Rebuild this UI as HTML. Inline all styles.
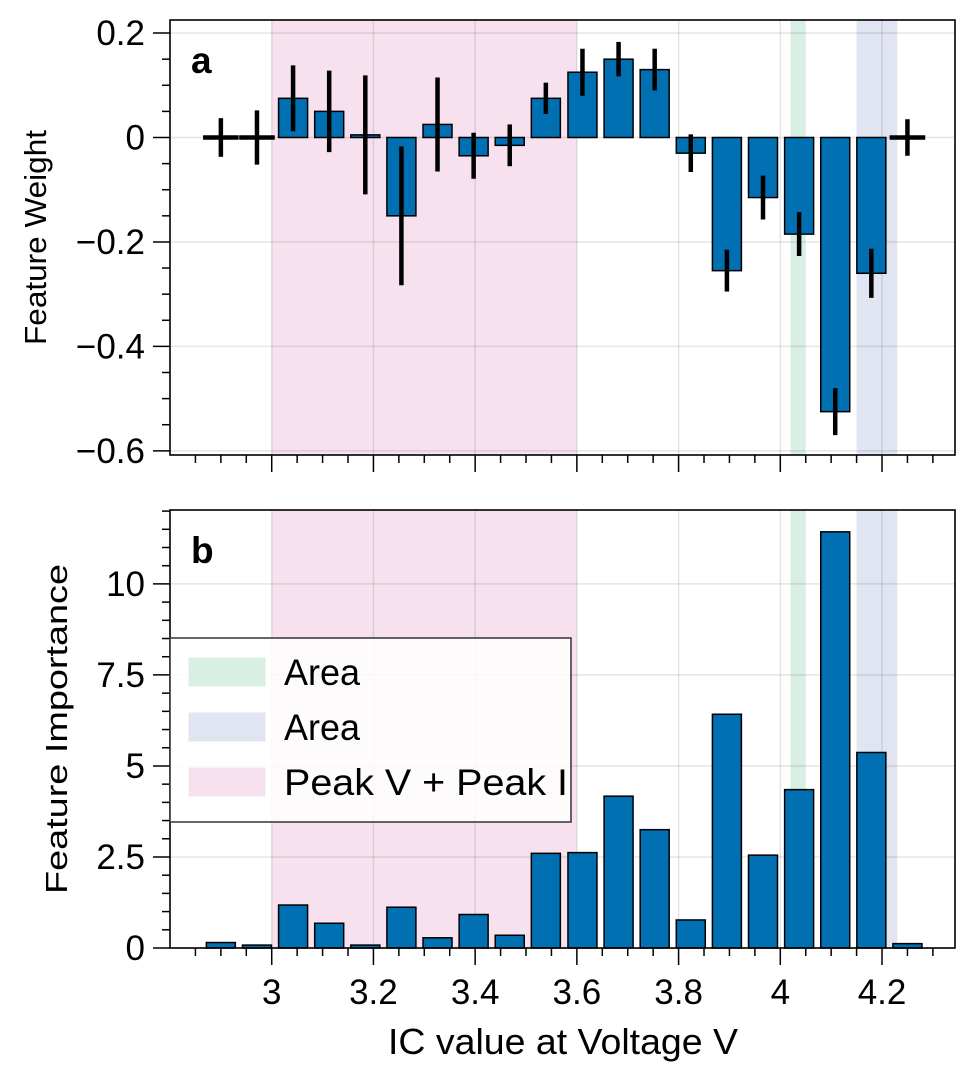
<!DOCTYPE html>
<html><head><meta charset="utf-8"><style>
body{margin:0;background:#fff;}
svg{display:block;font-family:"Liberation Sans",sans-serif;}
</style></head><body>
<svg id="c" width="975" height="1080" viewBox="0 0 975 1080"></svg>
<script>
const centers=[2.90,2.971,3.042,3.113,3.184,3.255,3.326,3.397,3.468,3.539,3.611,3.682,3.753,3.824,3.895,3.966,4.037,4.108,4.179,4.25];
const weights=[0,0,0.075,0.05,0.005,-0.15,0.025,-0.035,-0.015,0.075,0.125,0.15,0.13,-0.03,-0.255,-0.115,-0.185,-0.525,-0.26,0];
const weightErr=[0.037,0.052,0.063,0.078,0.114,0.133,0.09,0.044,0.04,0.03,0.045,0.033,0.04,0.036,0.04,0.042,0.042,0.045,0.047,0.035];
const importance=[0.15,0.08,1.18,0.68,0.08,1.12,0.28,0.92,0.35,2.6,2.62,4.17,3.25,0.77,6.42,2.55,4.35,11.43,5.37,0.12];
const xTicks=[3,3.2,3.4,3.6,3.8,4,4.2];
const xTickLabels=["3","3.2","3.4","3.6","3.8","4","4.2"];
const yTopTicks=[0.2,0,-0.2,-0.4,-0.6];
const yTopLabels=["0.2","0","\u22120.2","\u22120.4","\u22120.6"];
const yBotTicks=[0,2.5,5,7.5,10];
const yBotLabels=["0","2.5","5","7.5","10"];
const regions=[[3.0,3.6,"#f7e1ee"],[4.02,4.05,"#d8efe4"],[4.15,4.23,"#e1e5f1"]];

const NS="http://www.w3.org/2000/svg",svg=document.getElementById('c');
function el(t,a,p){const e=document.createElementNS(NS,t);for(const k in a)e.setAttribute(k,a[k]);(p||svg).appendChild(e);return e;}
const L=170,R=955,XMIN=2.8,XMAX=4.3435;
const X=v=>L+(v-XMIN)/(XMAX-XMIN)*(R-L);
const T={top:20,bot:455,min:-0.608,max:0.225},B={top:510,bot:948,min:0,max:12.03};
const Y=(p,v)=>p.bot-(v-p.min)/(p.max-p.min)*(p.bot-p.top);
const bw=X(2.857)-X(2.8);

function panel(p,yt,yl,minorStep,name,letter,ylabel,showX,titleX,titleLen){
  const g=el('g',{});
  
  
  regions.forEach(r=>{const e=el('rect',{x:X(r[0]),y:p.top,width:X(r[1])-X(r[0]),height:p.bot-p.top,fill:r[2]},g);
    });
  xTicks.forEach(t=>el('line',{x1:X(t),x2:X(t),y1:p.top,y2:p.bot,stroke:'#000','stroke-opacity':0.1,'stroke-width':1.5},g));
  yt.forEach(t=>el('line',{x1:L,x2:R,y1:Y(p,t),y2:Y(p,t),stroke:'#000','stroke-opacity':0.1,'stroke-width':1.5},g));
  for(let v=2.85;v<XMAX;v+=0.05){const mj=xTicks.some(t=>Math.abs(t-v)<1e-6);
    el('line',{x1:X(v),x2:X(v),y1:p.bot,y2:p.bot+(mj?17:8),stroke:'#000','stroke-width':1.5},g);}
  const start=Math.ceil(p.min/minorStep-1e-9)*minorStep;
  for(let v=start;v<=p.max+1e-9;v+=minorStep){const mj=yt.some(t=>Math.abs(t-v)<1e-6);
    el('line',{x1:L,x2:L-(mj?17:8),y1:Y(p,v),y2:Y(p,v),stroke:'#000','stroke-width':1.5},g);}
  yt.forEach((t,i)=>{const e=el('text',{x:L-25,y:Y(p,t)+12,'text-anchor':'end','font-size':35},g);e.textContent=yl[i];
    });
  if(showX)xTicks.forEach((t,i)=>{const e=el('text',{x:X(t),y:p.bot+56,'text-anchor':'middle','font-size':35},g);e.textContent=xTickLabels[i];
    });
  const lt=el('text',{x:191,y:p.top+53,'font-size':37,'font-weight':'bold'},g);lt.textContent=letter;
  
  const cy=(p.top+p.bot)/2;
  const yl2=el('text',{x:0,y:0,transform:`translate(${titleX},${cy}) rotate(-90)`,'text-anchor':'middle','font-size':31,textLength:titleLen,lengthAdjust:'spacingAndGlyphs'},g);yl2.textContent=ylabel;
  
  return g;
}
const gt=panel(T,yTopTicks,yTopLabels,0.05,'top-panel','a','Feature Weight',false,46,215);
const gb=panel(B,yBotTicks,yBotLabels,0.5,'bottom-panel','b','Feature Importance',true,67,330);

centers.forEach((c,i)=>{
  const y0=Y(T,0),y1=Y(T,weights[i]);
  if(Math.abs(weights[i])>0.001){const r=el('rect',{x:X(c)-bw/2,y:Math.min(y0,y1),width:bw,height:Math.abs(y1-y0),fill:'#0070b2',stroke:'#000','stroke-width':1.5},gt);
    }
  const e=el('line',{x1:X(c),x2:X(c),y1:Y(T,weights[i]+weightErr[i]),y2:Y(T,weights[i]-weightErr[i]),stroke:'#000','stroke-width':4.5},gt);
  
  if(Math.abs(weights[i])<0.003){const h=el('line',{x1:X(c-0.035),x2:X(c+0.035),y1:Y(T,weights[i]),y2:Y(T,weights[i]),stroke:'#000','stroke-width':4.5},gt);
    }
  const yb=Y(B,importance[i]);
  const b=el('rect',{x:X(c)-bw/2,y:yb,width:bw,height:Y(B,0)-yb,fill:'#0070b2',stroke:'#000','stroke-width':1.5},gb);
  
});
[T,B].forEach(p=>el('rect',{x:L,y:p.top,width:R-L,height:p.bot-p.top,fill:'none',stroke:'#000','stroke-width':1.6}));
const lg=el('g',{});


el('rect',{x:170,y:638,width:401,height:184,fill:'#fff','fill-opacity':0.85,stroke:'#333','stroke-width':1.5},lg);
const ent=[["#d8efe4","Area",76],["#e1e5f1","Area",76],["#f7e1ee","Peak V + Peak I",284]];
ent.forEach((e,i)=>{const y=658+i*55;
  const s=el('rect',{x:189,y:y,width:76,height:28,fill:e[0],stroke:e[0]},lg);
  const t=el('text',{x:284,y:685+i*55,'font-size':37,textLength:e[2],lengthAdjust:'spacingAndGlyphs'},lg);t.textContent=e[1];});
const xt=el('text',{x:563,y:1054,'text-anchor':'middle','font-size':36,textLength:350,lengthAdjust:'spacingAndGlyphs'});xt.textContent='IC value at Voltage V';


</script>
</body></html>
